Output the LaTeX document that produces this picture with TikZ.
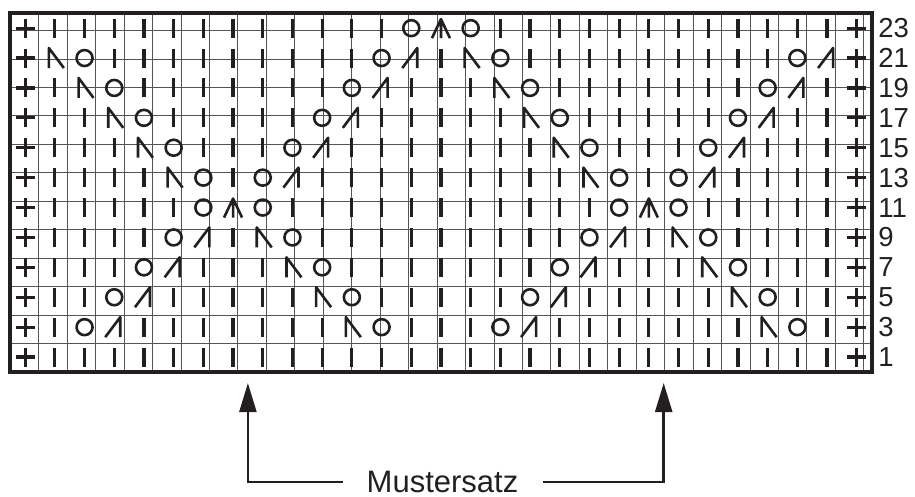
\documentclass[tikz,border=0pt]{standalone}
\usepackage{fontspec}
\setmainfont{Liberation Sans}
\usetikzlibrary{arrows.meta,positioning}
\definecolor{inkblack}{RGB}{35,31,32}
\definecolor{gridgray}{RGB}{85,85,85}

\begin{document}
\begin{tikzpicture}[
    stitch/.style={draw=inkblack, line width=3.2pt},
    thinstitch/.style={draw=inkblack, line width=2.6pt, line join=round},
    gridline/.style={draw=gridgray, line width=1pt},
    border/.style={draw=inkblack, line width=3.8pt},
    rownum/.style={anchor=west, inner sep=0pt, text=inkblack, font=\fontsize{27.5}{32}\selectfont},
    musterlabel/.style={inner xsep=24pt, inner ysep=2pt, text=inkblack, font=\fontsize{31}{37}\selectfont},
    arrow/.style={-{Triangle[length=29pt,width=17pt]}, draw=inkblack, line width=2.5pt},
    % chart symbols: k knit, o yarn over, r right decrease, l left decrease, c double decrease
    selvage/.pic={\draw[stitch] (-9.5pt,0pt) -- (9.5pt,0pt) (0pt,-9.5pt) -- (0pt,9.5pt);},
    k/.pic={\draw[stitch] (0pt,-9.5pt) -- (0pt,9.5pt);},
    o/.pic={\draw[thinstitch] (0pt,0pt) circle[radius=8pt];},
    r/.pic={\draw[thinstitch] (-9pt,-10pt) -- (6pt,10pt) -- (6pt,-10pt);},
    l/.pic={\draw[thinstitch] (-6pt,-10pt) -- (-6pt,10pt) -- (9pt,-10pt);},
    c/.pic={\draw[thinstitch] (-9pt,-10pt) -- (0pt,9pt) -- (9pt,-10pt) (0pt,9pt) -- (0pt,-10pt);}
]
\useasboundingbox (0pt,0pt) rectangle (915pt,497pt);

% Chart - 29 stitches x 12 rows (odd rows only)
\begin{scope}[xshift=10.3pt, yshift=125pt, x=29.7pt, y=29.9pt]
\draw[gridline] (0,0) grid (29,12);
\foreach \j/\stitches in {
    0/{k,k,k,k,k,k,k,k,k,k,k,k,k,k,k,k,k,k,k,k,k,k,k,k,k,k,k},
    1/{k,o,r,k,k,k,k,k,k,k,l,o,k,k,k,o,r,k,k,k,k,k,k,k,l,o,k},
    2/{k,k,o,r,k,k,k,k,k,l,o,k,k,k,k,k,o,r,k,k,k,k,k,l,o,k,k},
    3/{k,k,k,o,r,k,k,k,l,o,k,k,k,k,k,k,k,o,r,k,k,k,l,o,k,k,k},
    4/{k,k,k,k,o,r,k,l,o,k,k,k,k,k,k,k,k,k,o,r,k,l,o,k,k,k,k},
    5/{k,k,k,k,k,o,c,o,k,k,k,k,k,k,k,k,k,k,k,o,c,o,k,k,k,k,k},
    6/{k,k,k,k,l,o,k,o,r,k,k,k,k,k,k,k,k,k,l,o,k,o,r,k,k,k,k},
    7/{k,k,k,l,o,k,k,k,o,r,k,k,k,k,k,k,k,l,o,k,k,k,o,r,k,k,k},
    8/{k,k,l,o,k,k,k,k,k,o,r,k,k,k,k,k,l,o,k,k,k,k,k,o,r,k,k},
    9/{k,l,o,k,k,k,k,k,k,k,o,r,k,k,k,l,o,k,k,k,k,k,k,k,o,r,k},
    10/{l,o,k,k,k,k,k,k,k,k,k,o,r,k,l,o,k,k,k,k,k,k,k,k,k,o,r},
    11/{k,k,k,k,k,k,k,k,k,k,k,k,o,c,o,k,k,k,k,k,k,k,k,k,k,k,k}}{
  \pic at (0.5,\j+0.5) {selvage};
  \pic at (28.5,\j+0.5) {selvage};
  \foreach \s [count=\c] in \stitches
    \pic at (\c+0.5,\j+0.5) {\s};
  \pgfmathtruncatemacro{\rn}{2*\j+1}
  \node[rownum] (row\rn) at (29.22,\j+0.5) {\rn};
}
\draw[border] (0,0) rectangle (29,12);
\coordinate (repstart) at (8,-0.37);
\coordinate (repend) at (22,-0.37);
\end{scope}

% Pattern repeat
\node[musterlabel] (muster) at (442.5pt,15pt) {Mustersatz};
\draw[arrow] (muster.west) -| (repstart);
\draw[arrow] (muster.east) -| (repend);

\end{tikzpicture}
\end{document}
